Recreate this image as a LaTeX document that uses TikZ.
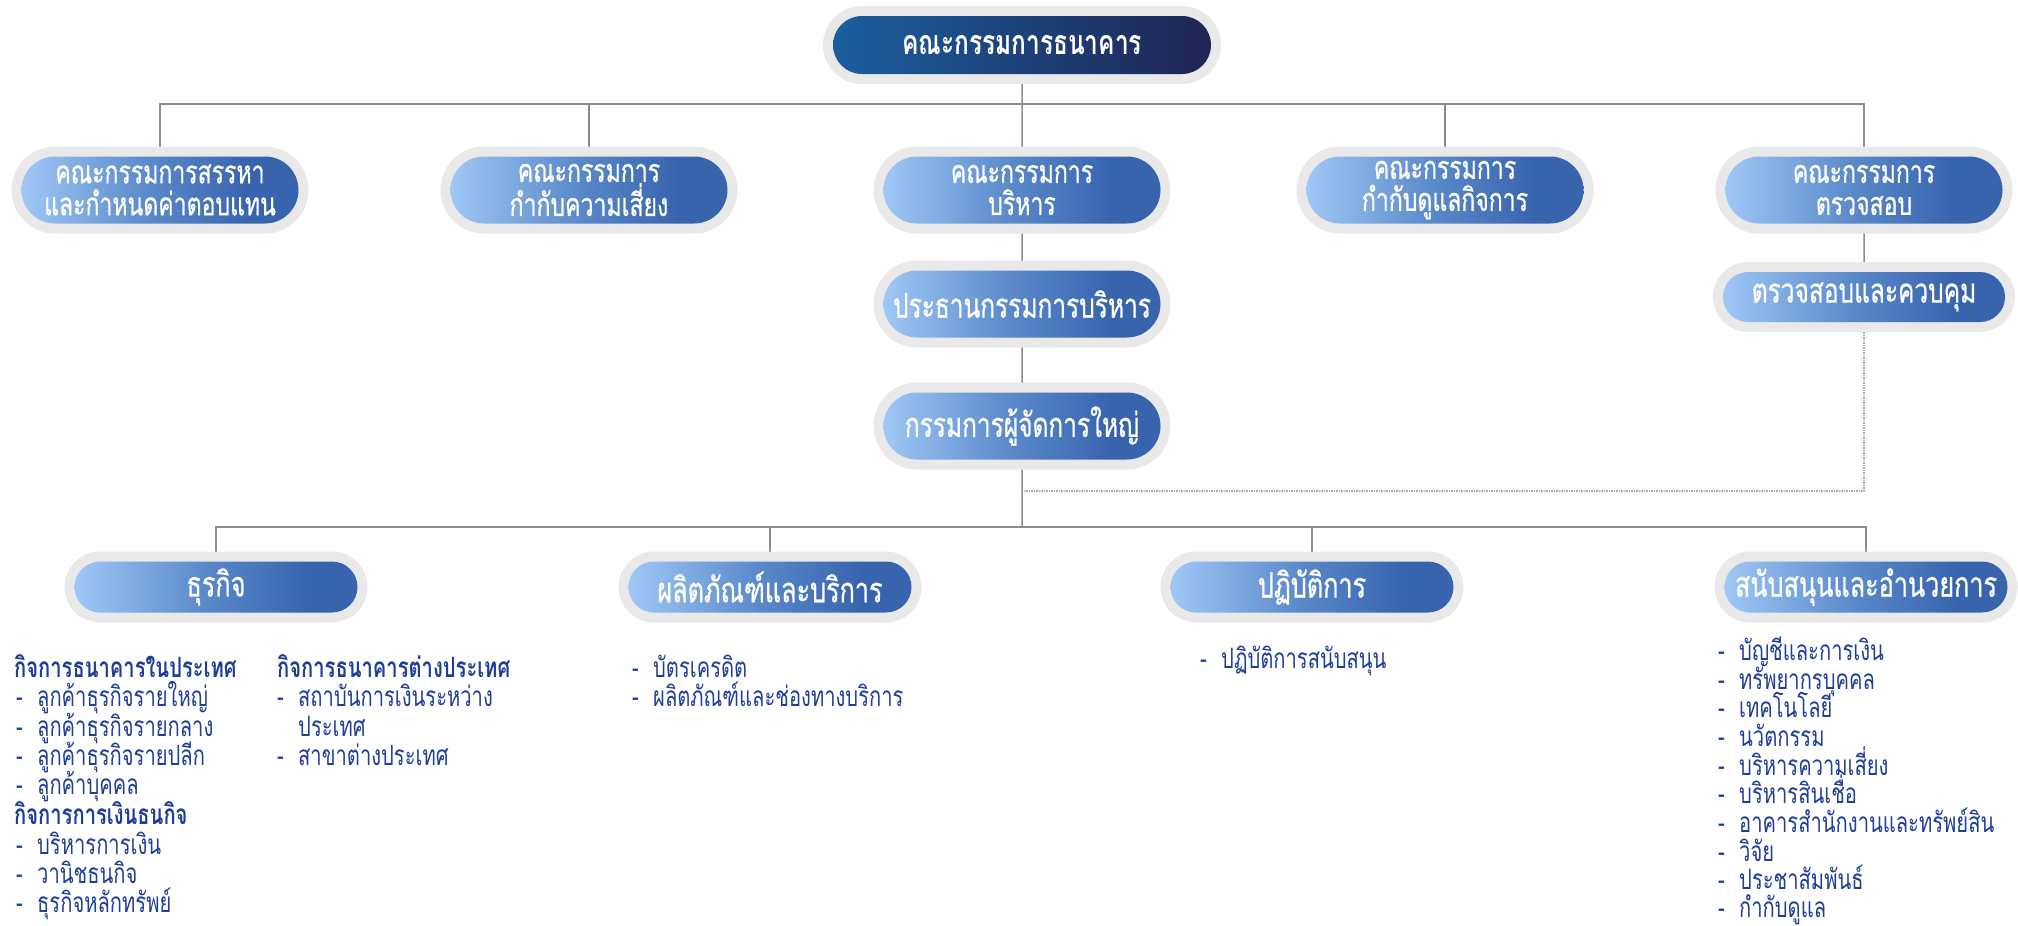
\documentclass[tikz,border=0pt]{standalone}
\usepackage{fontspec}
\setmainfont{Loma}[Script=Thai, FakeStretch=0.72]
\newfontfamily\nodefont{Loma}[Script=Thai, FakeStretch=0.72, FakeBold=0.6]
\usetikzlibrary{shapes.misc}
\pgfdeclarelayer{background}
\pgfsetlayers{background,main}
\definecolor{ringgray}{HTML}{E9E9E9}
\definecolor{pl}{HTML}{9FC8F6}
\definecolor{pm}{HTML}{5A89CA}
\definecolor{pd}{HTML}{3864AE}
\definecolor{tl}{HTML}{1B5F9F}
\definecolor{td}{HTML}{1F2453}
\definecolor{linegray}{HTML}{8C8C8C}
\definecolor{dotgray}{HTML}{A8A8A8}
\definecolor{listblue}{HTML}{1F3E98}
\pgfdeclarehorizontalshading{pillshade}{100bp}{color(0bp)=(pl); color(25bp)=(pl); color(48bp)=(pm); color(66bp)=(pd); color(100bp)=(pd)}
\pgfdeclarehorizontalshading{topshade}{100bp}{color(0bp)=(tl); color(25bp)=(tl); color(75bp)=(td); color(100bp)=(td)}
\newcommand\dl{\makebox[21pt][l]{-}}
\tikzset{
  pillbase/.style={rounded rectangle, inner sep=0pt, text=white, align=center,
    preaction={draw=ringgray, line width=20pt}},
  box/.style={pillbase, shading=pillshade, minimum width=277pt, minimum height=67pt,
    font=\nodefont\fontsize{32}{32}\selectfont},
  bigbox/.style={box, font=\nodefont\fontsize{34}{34}\selectfont},
  topnode/.style={pillbase, shading=topshade, minimum width=378pt, minimum height=58pt,
    font=\fontsize{34}{34}\selectfont\bfseries},
  bbox/.style={pillbase, shading=pillshade, minimum width=283pt, minimum height=51pt,
    font=\nodefont\fontsize{35}{35}\selectfont},
  conn/.style={draw=linegray, line width=1.5pt},
  dconn/.style={draw=dotgray, line width=1.5pt, densely dotted},
  item/.style={inner sep=0pt, anchor=base west, text=listblue, font=\fontsize{28}{28}\selectfont},
  head/.style={item, font=\fontsize{28}{28}\selectfont\bfseries},
}
\begin{document}
\begin{tikzpicture}[x=1pt,y=-1pt]
\useasboundingbox (0,0) rectangle (2018,926);
% nodes
\node[topnode] (top) at (1022,45) {คณะกรรมการธนาคาร};
\node[box] (r1a) at (160,190) {คณะกรรมการสรรหา\\และกำหนดค่าตอบแทน};
\node[box] (r1b) at (589,190) {คณะกรรมการ\\กำกับความเสี่ยง};
\node[box] (r1c) at (1022,190) {คณะกรรมการ\\บริหาร};
\node[box] (r1d) at (1445,190) {คณะกรรมการ\\กำกับดูแลกิจการ};
\node[box] (r1e) at (1864,190) {คณะกรรมการ\\ตรวจสอบ};
\node[bigbox, minimum width=282pt, minimum height=50pt] (aud) at (1864,297) {ตรวจสอบและควบคุม};
\node[bigbox] (ceo) at (1022,304) {ประธานกรรมการบริหาร};
\node[bigbox] (pres) at (1022,426) {กรรมการผู้จัดการใหญ่};
\node[bbox] (b1) at (216,587) {ธุรกิจ};
\node[bbox] (b2) at (770,587) {ผลิตภัณฑ์และบริการ};
\node[bbox] (b3) at (1312,587) {ปฏิบัติการ};
\node[bbox] (b4) at (1866,587) {สนับสนุนและอำนวยการ};
\coordinate (h1) at (1022,104);
\coordinate (h2) at (1022,527);
\coordinate (d1) at (1022,491);
% connectors
\begin{pgfonlayer}{background}
\draw[conn] (top) -- (r1c) -- (ceo) -- (pres) -- (h2);
\draw[conn] (r1a) |- (h1) -| (r1e);
\draw[conn] (r1b) -- (r1b |- h1);
\draw[conn] (r1d) -- (r1d |- h1);
\draw[conn] (r1e) -- (aud);
\draw[dconn] (aud) |- (d1);
\draw[conn] (b1) |- (h2) -| (b4);
\draw[conn] (b2) -- (b2 |- h2);
\draw[conn] (b3) -- (b3 |- h2);
\end{pgfonlayer}
% lists: business
\node[head] (l1) at (14,677) {กิจการธนาคารในประเทศ};
\node[item] (l2) at (16,706) {\dl ลูกค้าธุรกิจรายใหญ่};
\node[item] (l3) at (16,736) {\dl ลูกค้าธุรกิจรายกลาง};
\node[item] (l4) at (16,765) {\dl ลูกค้าธุรกิจรายปลีก};
\node[item] (l5) at (16,794) {\dl ลูกค้าบุคคล};
\node[head] (l6) at (14,824) {กิจการการเงินธนกิจ};
\node[item] (l7) at (16,854) {\dl บริหารการเงิน};
\node[item] (l8) at (16,883) {\dl วานิชธนกิจ};
\node[item] (l9) at (16,912) {\dl ธุรกิจหลักทรัพย์};
\node[head] (m1) at (277,677) {กิจการธนาคารต่างประเทศ};
\node[item] (m2) at (277,706) {\dl สถาบันการเงินระหว่าง};
\node[item] (m3) at (298,736) {ประเทศ};
\node[item] (m4) at (277,765) {\dl สาขาต่างประเทศ};
% products
\node[item] (p1) at (632,677) {\dl บัตรเครดิต};
\node[item] (p2) at (632,706) {\dl ผลิตภัณฑ์และช่องทางบริการ};
% operations
\node[item] (o1) at (1200,668) {\dl ปฏิบัติการสนับสนุน};
% support
\node[item] (s1) at (1718,660) {\dl บัญชีและการเงิน};
\node[item] (s2) at (1718,689) {\dl ทรัพยากรบุคคล};
\node[item] (s3) at (1718,717) {\dl เทคโนโลยี};
\node[item] (s4) at (1718,746) {\dl นวัตกรรม};
\node[item] (s5) at (1718,775) {\dl บริหารความเสี่ยง};
\node[item] (s6) at (1718,803) {\dl บริหารสินเชื่อ};
\node[item] (s7) at (1718,832) {\dl อาคารสำนักงานและทรัพย์สิน};
\node[item] (s8) at (1718,861) {\dl วิจัย};
\node[item] (s9) at (1718,889) {\dl ประชาสัมพันธ์};
\node[item] (s10) at (1718,917) {\dl กำกับดูแล};
\end{tikzpicture}
\end{document}
